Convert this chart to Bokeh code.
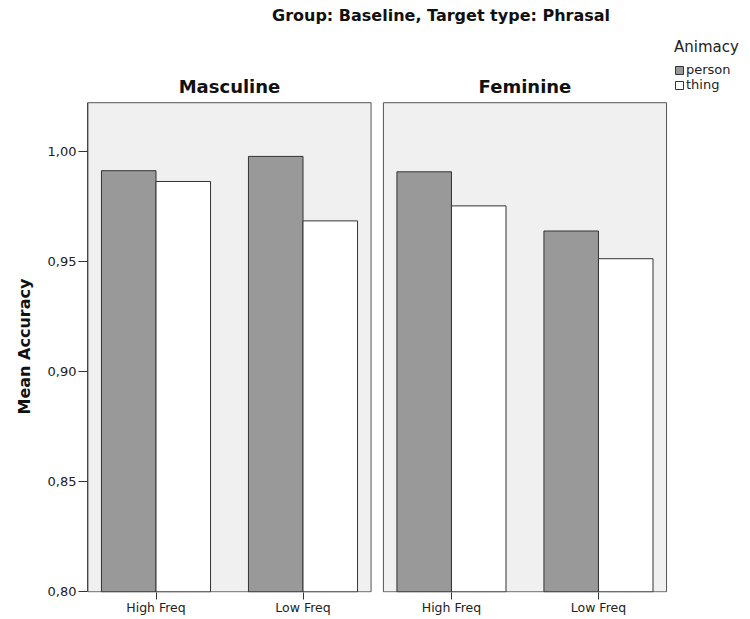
from bokeh.plotting import figure
from bokeh.models import Range1d, FixedTicker, CustomJSTickFormatter, Legend, LegendItem, Title
from bokeh.core.properties import value
from bokeh.embed import file_html
from bokeh.resources import INLINE

# ---------------- data ----------------
genders = ["Masculine", "Feminine"]
frequencies = ["High Freq", "Low Freq"]
animacy = ["person", "thing"]
# order: Masculine-High, Masculine-Low, Feminine-High, Feminine-Low
person_acc = [0.9914, 0.9979, 0.9909, 0.9640]
thing_acc = [0.9865, 0.9686, 0.9754, 0.9514]
y_ticks = [0.80, 0.85, 0.90, 0.95, 1.00]
chart_title = "Group: Baseline, Target type: Phrasal"
y_label = "Mean Accuracy"
legend_title = "Animacy"

# ---------------- layout constants ----------------
FONT = "DejaVu Sans"
PANEL_STEP = 2.01      # distance between the two gender panels (in category units)
PANEL_PAD = 0.463      # panel extends this far beyond first/last category
BAR_W = 0.371
Y_BASE = 0.80
Y_TOP = 1.0223         # top of panel frame

cat_x = [g * PANEL_STEP + f for g in range(len(genders)) for f in range(len(frequencies))]
cat_labels = [fr for g in genders for fr in frequencies]
panel_left = [g * PANEL_STEP - PANEL_PAD for g in range(len(genders))]
panel_right = [g * PANEL_STEP + (len(frequencies) - 1) + PANEL_PAD for g in range(len(genders))]
panel_center = [(l + r) / 2 for l, r in zip(panel_left, panel_right)]

p = figure(width=748, height=617,
           x_range=Range1d(-0.466, 4.0306), y_range=Range1d(0.7997, 1.06875),
           output_backend="svg", toolbar_location=None,
           min_border_left=87, min_border_right=0, min_border_top=0, min_border_bottom=22)
p.grid.visible = False
p.outline_line_color = None
p.background_fill_color = "white"

# panels
p.quad(left=panel_left, right=panel_right, bottom=Y_BASE, top=Y_TOP,
       fill_color="#F0F0F0", line_color="#555555", line_width=1)

# bars
r_person = p.vbar(x=[c - BAR_W / 2 for c in cat_x], top=person_acc, bottom=Y_BASE, width=BAR_W,
                  fill_color="#999999", line_color="#333333", line_width=1)
r_thing = p.vbar(x=[c + BAR_W / 2 for c in cat_x], top=thing_acc, bottom=Y_BASE, width=BAR_W,
                 fill_color="#FFFFFF", line_color="#333333", line_width=1)

# panel titles
p.text(x=panel_center, y=[1.0298] * len(genders), text=genders,
       text_font=value(FONT), text_font_style="bold", text_font_size="18px",
       text_align="center", text_baseline="alphabetic", text_color="#111111")

# chart title
p.text(x=[1.939], y=[1.0621], text=[chart_title],
       text_font=value(FONT), text_font_style="bold", text_font_size="16px",
       text_align="center", text_baseline="alphabetic", text_color="#111111")

# y axis
ya = p.yaxis[0]
ya.ticker = FixedTicker(ticks=y_ticks)
ya.formatter = CustomJSTickFormatter(code="return tick.toFixed(2).replace('.', ',');")
ya.bounds = (Y_BASE, Y_TOP)
ya.axis_line_color = "#444444"
ya.major_tick_line_color = "#333333"
ya.major_tick_out = 9
ya.major_tick_in = 0
ya.minor_tick_line_color = None
ya.major_label_standoff = 2
ya.major_label_text_font = FONT
ya.major_label_text_font_size = "13px"
ya.major_label_text_color = "#222222"

# y axis title, centred on the panels rather than on the whole frame
ytitle = Title(text=y_label, align="left", offset=178, standoff=22,
               text_font=FONT, text_font_style="bold", text_font_size="16px",
               text_color="#111111")
p.add_layout(ytitle, "left")

# x axis
xa = p.xaxis[0]
xa.ticker = FixedTicker(ticks=cat_x)
xa.major_label_overrides = {c: lab for c, lab in zip(cat_x, cat_labels)}
xa.axis_line_color = None
xa.major_tick_line_color = "#333333"
xa.major_tick_out = 7
xa.major_tick_in = 0
xa.minor_tick_line_color = None
xa.major_label_standoff = 0
xa.major_label_text_font = FONT
xa.major_label_text_font_size = "12.5px"
xa.major_label_text_color = "#222222"

# legend
legend = Legend(items=[LegendItem(label=animacy[0], renderers=[r_person]),
                       LegendItem(label=animacy[1], renderers=[r_thing])],
                title=legend_title, location=(587, 500))
legend.title_text_font = FONT
legend.title_text_font_size = "15px"
legend.title_text_font_style = "normal"
legend.title_text_color = "#222222"
legend.title_standoff = 6
legend.label_text_font = FONT
legend.label_text_font_size = "13px"
legend.label_text_color = "#222222"
legend.glyph_width = 10
legend.glyph_height = 10
legend.label_standoff = 2
legend.label_height = 12
legend.spacing = 0
legend.padding = 0
legend.margin = 0
legend.background_fill_alpha = 0
legend.border_line_color = None
p.add_layout(legend)

open("out.html", "w").write(file_html(p, INLINE))
